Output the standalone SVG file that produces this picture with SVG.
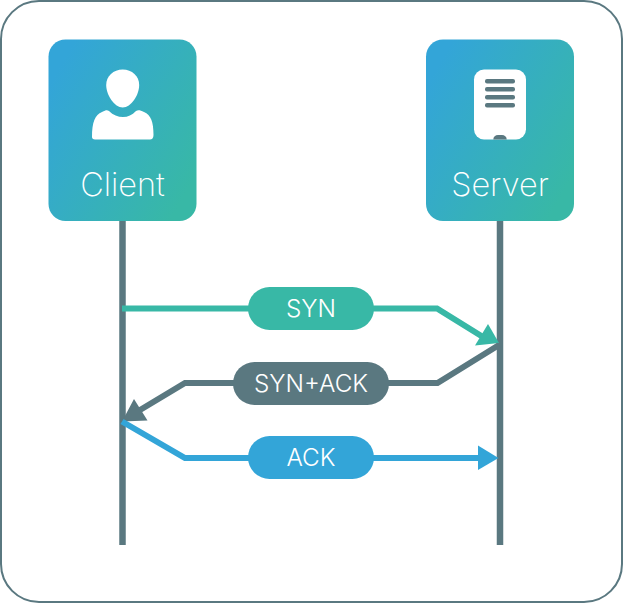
<svg xmlns="http://www.w3.org/2000/svg" width="623" height="603" viewBox="0 0 623 603">
<style>
text{font-family:"Inter","Liberation Sans",sans-serif;font-weight:300;fill:#fff;text-anchor:middle}
.name{font-size:32.500px;font-weight:250}
.lab{font-size:24.300px}
.life{stroke:#5a7880;stroke-width:6.500;fill:none}
.conn{stroke-width:6;fill:none;stroke-linejoin:miter}
.box{fill:url(#grad)}
</style>
<defs>
<linearGradient id="grad" x1="0" y1="0.15" x2="1" y2="0.85"><stop offset="0.05" stop-color="#33a5d8"/><stop offset="0.95" stop-color="#38b8a6"/></linearGradient>
</defs>
<rect x="1" y="1" width="621" height="601" rx="38" fill="#fff" stroke="#5a7880" stroke-width="2"/>
<g id="connectors">
<path class="life" d="M122.500 221V545"/>
<path class="life" d="M500 221V545"/>
<path class="conn" stroke="#38b8a6" d="M122 308.500H437L483 337"/>
<polygon fill="#38b8a6" points="499,343 488,324 475,345.500"/>
<path class="conn" stroke="#5a7880" d="M499 345L437.500 383H185L140 410"/>
<polygon fill="#5a7880" points="122,421.500 134,399 147.500,420.500"/>
<path class="conn" stroke="#33a5d8" d="M122 421.500L185 458H480"/>
<polygon fill="#33a5d8" points="498.500,458 478,445.500 478,470"/>
</g>
<g id="client">
<rect class="box" x="48.500" y="39.500" width="148" height="181.500" rx="17"/>
<path fill="#fff" d="M122.700 69.500C132 69.500 139.200 76 139.200 85C139.200 95 131 107.500 122.700 107.500C114.400 107.500 106.200 95 106.200 85C106.200 76 113.400 69.500 122.700 69.500Z"/>
<path fill="#fff" d="M92 137C92 122 95 115 102 112C106 110 107 110 109 111C113 115 118 117 123 117C128 117 132 115 136 111C138 110 140 110 144 112C151 115 153.500 122 153.500 135C153.500 138 152 139.500 150 139.500H95C93 139.500 92 138.500 92 137Z"/>
<text class="name" x="122.500" y="196">Client</text>
</g>
<g id="server">
<rect class="box" x="426" y="39.500" width="148" height="181.500" rx="17"/>
<rect x="474" y="69.500" width="52" height="70" rx="10" fill="#fff"/>
<g fill="#5a7880">
<rect x="485" y="79" width="30" height="4.500" rx="2"/>
<rect x="485" y="87" width="30" height="4.500" rx="2"/>
<rect x="485" y="95" width="30" height="4.500" rx="2"/>
<rect x="485" y="103" width="30" height="4.500" rx="2"/>
<path d="M493.300 139.500C493.300 136.500 495.500 135 498 135H502C504.500 135 506.700 136.500 506.700 139.500Z"/>
</g>
<text class="name" x="500" y="196">Server</text>
</g>
<g id="syn">
<rect x="248" y="287" width="126" height="43" rx="21.500" fill="#38b8a6"/>
<text class="lab" x="311" y="317">SYN</text>
</g>
<g id="synack">
<rect x="233" y="362" width="156" height="43" rx="21.500" fill="#5a7880"/>
<text class="lab" x="311" y="392">SYN+ACK</text>
</g>
<g id="ack">
<rect x="248" y="436" width="126" height="43" rx="21.500" fill="#33a5d8"/>
<text class="lab" x="311" y="466">ACK</text>
</g>
</svg>
